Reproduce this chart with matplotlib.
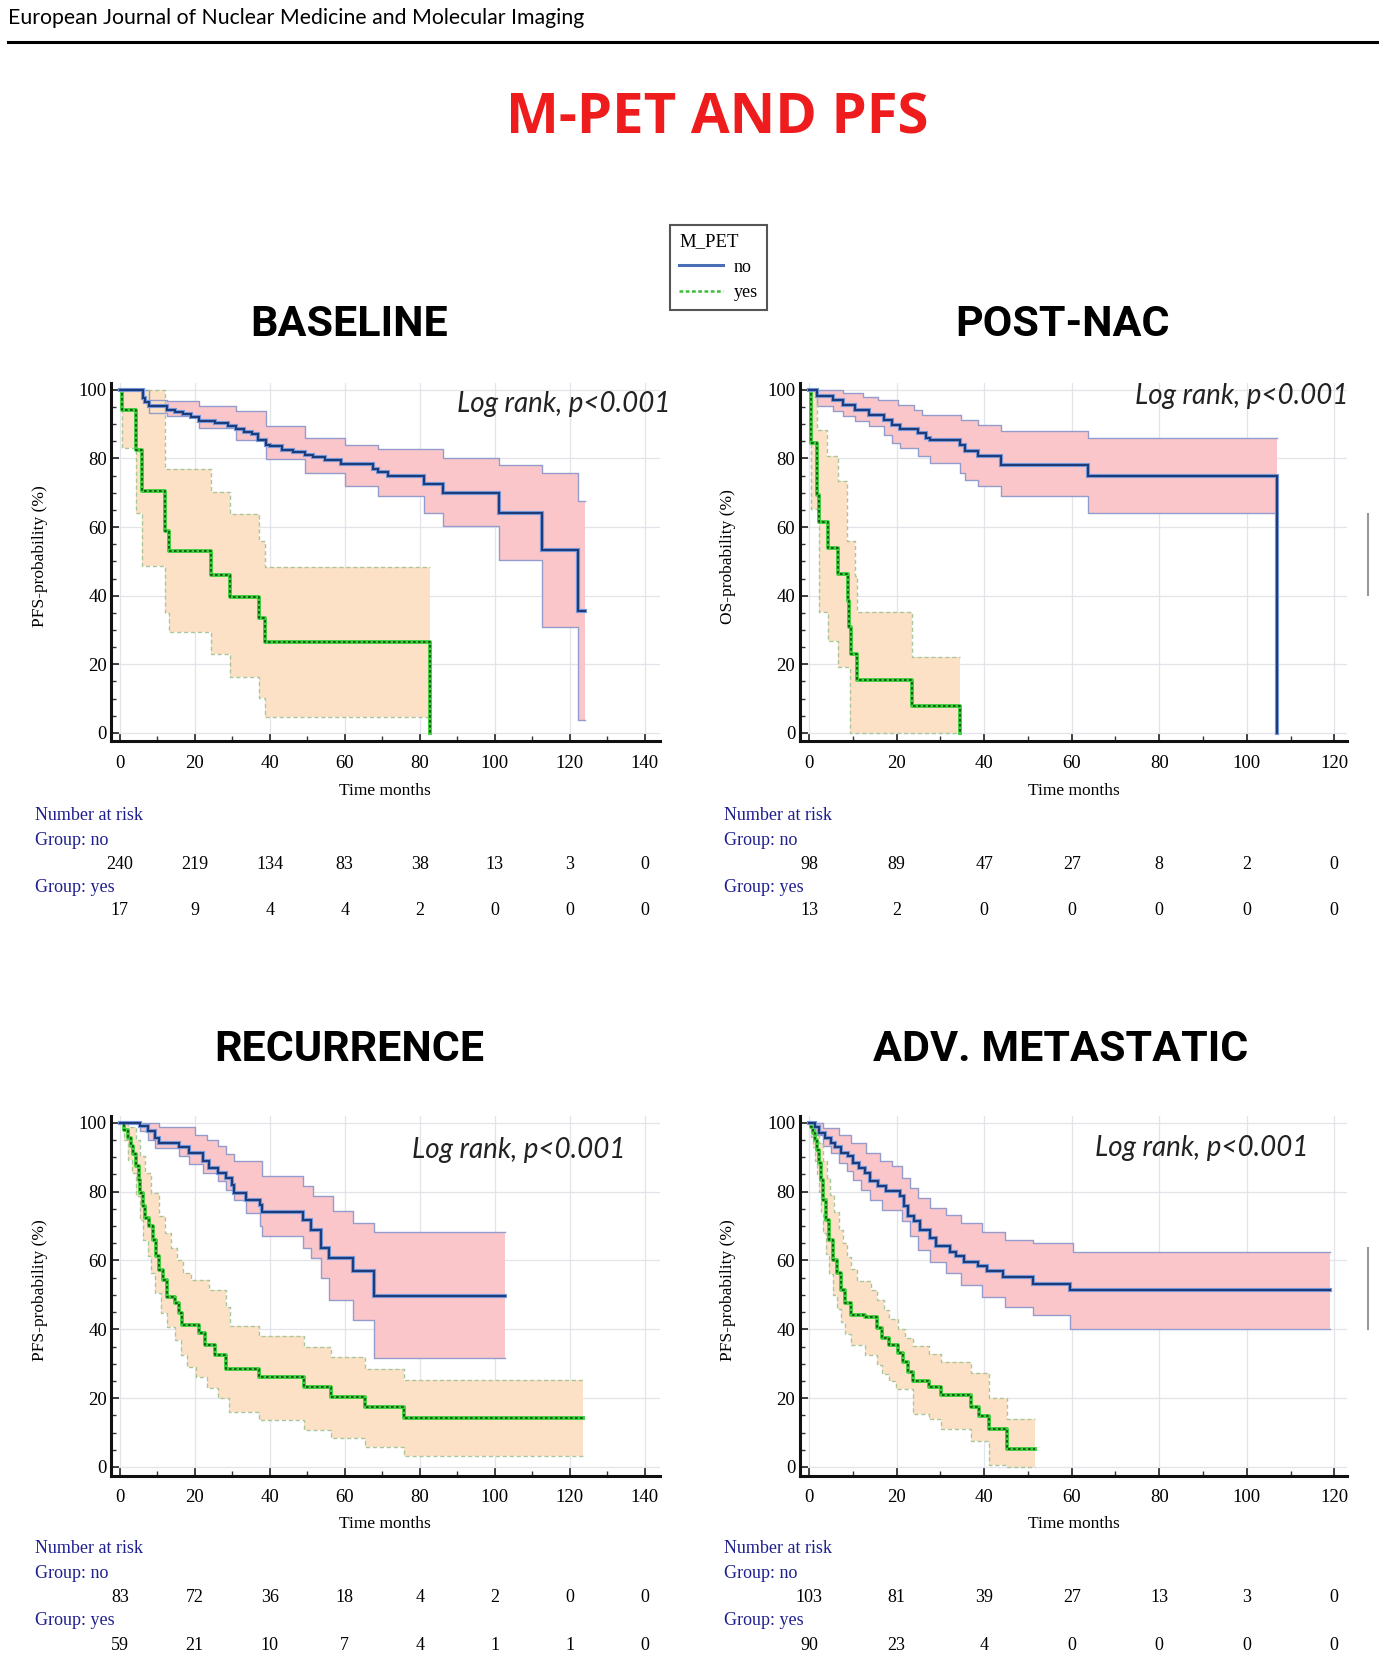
import numpy as np
import matplotlib
matplotlib.use('Agg')
import matplotlib.pyplot as plt
from matplotlib.lines import Line2D
from matplotlib.ticker import MultipleLocator
import matplotlib.transforms as mtrans

# ---------------- data ----------------
# BASELINE
bl_no_t = [0, 6.3, 6.8, 7.9, 12.6, 14.7, 16.8, 18.9, 21.1, 25.3, 28.9, 31.1, 33.2, 35.3, 36.8, 38.9, 40.0, 43.2, 46.3,
           49.5, 51.6, 54.7, 58.9, 67.4, 68.9, 71.6, 81.1, 86.3, 101.1, 112.6, 122.1]
bl_no_s = [100, 97.7, 96.5, 95.2, 94.2, 93.5, 92.8, 92.0, 91.0, 90.2, 89.5, 88.5, 87.8, 87.0, 85.5, 84.0, 83.5, 82.5, 81.8,
           81.0, 80.4, 79.5, 78.5, 77.0, 76.0, 75.0, 72.5, 69.8, 64.0, 53.3, 35.4]
bl_no_end = 124.2
bl_no_hi_t = [0, 7.9, 12.6, 21.1, 31.1, 38.9, 49.5, 60.0, 68.9, 86.3, 101.1, 112.6, 122.1]
bl_no_hi = [100, 97.0, 96.6, 95.2, 93.7, 89.4, 86.0, 84.0, 82.6, 80.2, 78.2, 75.8, 67.6]
bl_no_lo_t = [0, 6.3, 7.9, 12.6, 21.1, 31.1, 38.9, 49.5, 60.0, 68.9, 81.1, 86.3, 101.1, 112.6, 122.1]
bl_no_lo = [100, 96.5, 93.2, 92.3, 88.9, 85.5, 79.7, 75.8, 71.9, 69.0, 64.2, 60.3, 50.4, 31.0, 3.7]

bl_yes_t = [0, 0.5, 4.2, 5.8, 12.1, 13.2, 24.4, 29.5, 37.2, 38.6, 82.6]
bl_yes_s = [100, 94.1, 82.4, 70.6, 58.8, 52.9, 46.0, 39.5, 33.4, 26.4, 0]
bl_yes_end = 82.6
bl_yes_hi_t = [0, 12.1, 24.4, 29.5, 37.2, 38.6]
bl_yes_hi = [100, 77.0, 70.2, 63.7, 56.0, 48.4]
bl_yes_lo_t = [0, 0.5, 4.2, 5.8, 12.1, 13.2, 24.4, 29.5, 37.2, 38.6]
bl_yes_lo = [100, 83.0, 64.0, 48.7, 35.0, 29.3, 23.0, 16.3, 10.2, 4.6]

# POST-NAC
pn_no_t = [0, 1.8, 5.4, 7.7, 10.4, 13.6, 17.2, 19.0, 20.8, 24.9, 26.7, 27.6, 34.4, 35.7, 38.5, 43.9, 63.8, 107.0]
pn_no_s = [100, 98.3, 97.1, 95.6, 94.2, 92.7, 91.3, 89.8, 88.7, 87.4, 86.0, 85.3, 84.0, 82.1, 80.6, 78.2, 75.0, 0]
pn_no_end = 107.0
pn_no_hi_t = [0, 7.7, 12.2, 15.8, 20.4, 24.0, 25.8, 34.8, 38.5, 43.9, 63.8]
pn_no_hi = [100, 99.0, 98.0, 97.0, 95.6, 94.2, 92.7, 91.3, 89.8, 87.9, 86.0]
pn_no_lo_t = [0, 1.8, 5.4, 7.7, 10.4, 13.6, 17.2, 19.0, 20.8, 24.9, 27.6, 34.4, 35.7, 38.5, 43.9, 63.8]
pn_no_lo = [100, 95.4, 93.7, 92.3, 90.8, 89.4, 86.9, 84.5, 83.1, 80.6, 78.7, 75.8, 73.7, 71.9, 69.0, 64.0]

pn_yes_t = [0, 0.5, 1.8, 2.3, 4.3, 6.5, 8.8, 9.2, 9.6, 11.0, 23.5, 34.4]
pn_yes_s = [100, 84.6, 69.2, 61.5, 53.8, 46.2, 38.5, 30.8, 23.1, 15.4, 7.7, 0]
pn_yes_end = 34.4
pn_yes_hi_t = [0, 1.8, 4.1, 6.6, 8.6, 10.4, 11.0, 23.5]
pn_yes_hi = [100, 88.4, 80.8, 73.4, 56.0, 45.8, 35.1, 22.0]
pn_yes_lo_t = [0, 0.5, 2.3, 4.3, 6.6, 9.3]
pn_yes_lo = [100, 65.2, 35.1, 26.9, 19.2, 0]

# RECURRENCE
rc_no_t = [0, 5.3, 7.4, 9.5, 10.5, 15.8, 18.4, 22.1, 23.7, 26.1, 28.4, 30.0, 30.5, 33.7, 37.4, 37.9, 48.9, 51.0, 53.7,
           55.8, 62.1, 67.7]
rc_no_s = [100, 99.2, 97.6, 95.6, 94.2, 93.0, 91.3, 88.8, 86.9, 85.4, 84.0, 82.0, 79.6, 77.7, 76.0, 74.0, 71.8, 68.9, 63.6,
           60.7, 57.0, 49.8]
rc_no_end = 102.6
rc_no_hi_t = [0, 10.5, 20.0, 23.2, 26.3, 28.4, 30.5, 37.9, 48.9, 51.6, 56.8, 62.1, 67.7]
rc_no_hi = [100, 98.8, 96.6, 95.1, 93.2, 90.8, 88.8, 84.5, 81.6, 78.6, 74.3, 70.9, 68.2]
rc_no_lo_t = [0, 5.3, 7.4, 9.5, 15.8, 18.4, 22.1, 26.1, 28.4, 30.5, 33.7, 37.4, 37.9, 48.9, 51.0, 53.7, 55.8, 62.1, 67.7]
rc_no_lo = [100, 97.6, 95.1, 92.7, 90.3, 87.9, 85.4, 83.0, 80.6, 77.7, 73.8, 69.9, 67.0, 63.6, 60.7, 54.9, 48.5, 42.7, 31.6]

rc_yes_t = [0, 1.1, 2.1, 2.9, 3.4, 4.2, 5.1, 5.5, 6.1, 6.8, 7.9, 8.9, 9.7, 10.5, 11.6, 12.6, 14.7, 15.8, 16.6, 21.1,
            22.6, 25.3, 28.4, 37.0, 49.0, 56.3, 65.3, 75.7]
rc_yes_s = [100, 98.0, 95.6, 93.2, 90.8, 87.4, 83.5, 79.6, 75.7, 72.3, 69.9, 66.0, 61.2, 57.3, 54.4, 49.5, 47.6, 44.7,
            41.3, 38.8, 35.4, 32.5, 28.4, 26.1, 23.2, 20.3, 17.3, 14.3]
rc_yes_end = 123.5
rc_yes_hi_t = [0, 2.1, 4.2, 5.5, 6.8, 8.4, 10.5, 12.1, 13.7, 15.3, 16.8, 18.9, 23.7, 28.4, 29.5, 37.0, 49.0, 56.3, 65.3,
               75.7]
rc_yes_hi = [100, 98.8, 95.1, 90.3, 85.4, 79.6, 72.8, 68.0, 63.6, 60.2, 56.3, 54.4, 51.5, 46.6, 41.0, 38.0, 35.0, 32.0,
             28.4, 25.3]
rc_yes_lo_t = [0, 1.1, 2.1, 3.2, 4.2, 5.3, 6.3, 7.4, 8.4, 9.5, 11.1, 12.6, 14.7, 16.3, 17.9, 20.4, 23.3, 26.1, 29.0,
               37.0, 49.0, 56.3, 65.3, 75.7]
rc_yes_lo = [100, 95.1, 89.3, 85.4, 78.6, 71.8, 66.0, 61.2, 56.3, 50.5, 44.7, 40.8, 36.9, 32.5, 29.1, 26.2, 22.9, 20.0,
             16.1, 13.7, 10.7, 8.3, 5.9, 3.2]

# ADV. METASTATIC
am_no_t = [0, 1.4, 2.3, 3.6, 5.0, 5.9, 7.2, 8.8, 10.0, 11.3, 12.7, 14.0, 15.8, 17.6, 20.8, 21.7, 22.6, 24.0, 25.3, 27.6,
           29.0, 32.1, 33.5, 35.3, 38.5, 40.7, 44.3, 51.1, 59.7]
am_no_s = [100, 98.8, 97.1, 95.6, 94.2, 93.0, 91.3, 90.3, 88.3, 86.9, 85.4, 83.0, 81.6, 80.1, 78.6, 75.7, 72.8, 71.4,
           68.9, 66.5, 64.1, 62.6, 61.2, 59.7, 58.3, 56.8, 55.1, 53.2, 51.3]
am_no_end = 119.0
am_no_hi_t = [0, 3.1, 6.8, 9.5, 13.1, 16.3, 19.0, 21.3, 23.1, 24.9, 27.6, 31.2, 34.8, 39.4, 44.8, 51.1, 60.2]
am_no_hi = [100, 98.5, 96.6, 94.2, 91.3, 88.8, 87.4, 84.0, 81.1, 78.2, 75.2, 73.3, 70.9, 68.4, 66.0, 65.0, 62.6]
am_no_lo_t = [0, 1.4, 3.2, 5.0, 6.8, 8.6, 10.0, 11.8, 14.0, 16.7, 21.3, 23.1, 24.9, 27.6, 31.2, 34.8, 39.4, 44.8, 51.1,
              59.7]
am_no_lo = [100, 96.6, 93.2, 91.3, 88.3, 85.9, 83.5, 80.6, 77.7, 74.8, 71.4, 67.0, 63.1, 59.7, 56.3, 52.9, 49.5, 46.6,
            44.2, 40.0]

am_yes_t = [0, 0.5, 0.9, 1.4, 1.8, 2.3, 2.7, 3.2, 3.9, 4.5, 5.4, 6.3, 7.2, 8.1, 9.5, 12.7, 15.4, 16.6, 18.2, 20.2,
            21.5, 22.7, 23.8, 27.5, 30.2, 36.9, 38.8, 41.0, 45.2]
am_yes_s = [100, 98.8, 97.1, 95.1, 92.2, 88.3, 83.5, 77.7, 71.8, 66.0, 60.2, 56.3, 51.5, 47.6, 44.2, 43.5, 40.5, 37.5,
            35.5, 33.0, 30.5, 27.5, 25.0, 23.3, 20.8, 17.3, 14.9, 10.9, 5.1]
am_yes_end = 51.6
am_yes_hi_t = [0, 1.4, 2.3, 3.2, 4.0, 4.8, 5.7, 6.8, 7.7, 8.6, 9.5, 10.9, 14.1, 15.4, 17.0, 18.2, 20.2, 22.0, 23.8,
               27.5, 30.2, 36.9, 41.0, 45.2]
am_yes_hi = [100, 98, 94, 89, 84, 79, 74, 69, 65, 61, 57.5, 54, 51.5, 48.5, 45.5, 43, 40, 37.5, 35.1, 32.7, 30.5, 27.2,
             20.0, 13.9]
am_yes_lo_t = [0, 0.5, 0.9, 1.4, 1.8, 2.3, 2.7, 3.2, 3.9, 4.5, 5.4, 6.3, 7.2, 8.1, 9.5, 12.7, 15.4, 16.6, 18.2, 19.8,
               23.8, 27.5, 30.2, 36.9, 41.0, 45.2]
am_yes_lo = [100, 96, 93, 89, 85, 80, 74, 68, 62, 56, 50, 46, 42, 38.5, 35.5, 32.5, 29.5, 27, 25, 22.8, 15.3, 13.9,
             11.1, 7.4, 0.5, 0]

# numbers at risk
risk_t_long = [0, 20, 40, 60, 80, 100, 120, 140]
risk_t_short = [0, 20, 40, 60, 80, 100, 120]
bl_risk_no = [240, 219, 134, 83, 38, 13, 3, 0]
bl_risk_yes = [17, 9, 4, 4, 2, 0, 0, 0]
pn_risk_no = [98, 89, 47, 27, 8, 2, 0]
pn_risk_yes = [13, 2, 0, 0, 0, 0, 0]
rc_risk_no = [83, 72, 36, 18, 4, 2, 0, 0]
rc_risk_yes = [59, 21, 10, 7, 4, 1, 1, 0]
am_risk_no = [103, 81, 39, 27, 13, 3, 0]
am_risk_yes = [90, 23, 4, 0, 0, 0, 0]

panel_titles = ['BASELINE', 'POST-NAC', 'RECURRENCE', 'ADV. METASTATIC']
ylabels = ['PFS-probability (%)', 'OS-probability (%)', 'PFS-probability (%)', 'PFS-probability (%)']
logrank_text = 'Log rank, p<0.001'

# ---------------- layout helpers ----------------
W, H = 1306.0, 1569.0


def fx(p):
    return p / W


def fy(p):
    return 1 - p / H


SERIF = 'Liberation Serif'
NAVY = '#1f1f8f'
C_NO_FILL = '#fbc6ca'
C_NO_EDGE = '#949ccc'
C_YES_FILL = '#fde1c6'
C_YES_EDGE = '#a9c79a'

fig = plt.figure(figsize=(13.83, 16.62), dpi=100)

# header
fig.text(fx(8), fy(17), 'European Journal of Nuclear Medicine and Molecular Imaging', family='Lato', fontsize=15.3,
         ha='left', va='center', color='black')
fig.add_artist(Line2D([fx(8), fx(1300)], [fy(40), fy(40)], transform=fig.transFigure, color='black', lw=2.2))
fig.text(fx(677), fy(112), 'M-PET AND PFS', family='Open Sans', weight='bold', fontsize=40.5, color='#ee1c1c',
         ha='center', va='center')


def stepval(t, v, x):
    idx = np.searchsorted(np.asarray(t), x, side='right') - 1
    return np.asarray(v)[idx]


def draw_band(ax, lt, lv, ht, hv, end, face, edge, ls):
    grid = np.array(sorted(set(lt) | set(ht) | {end}))
    lo = stepval(lt, lv, grid)
    hi = stepval(ht, hv, grid)
    ax.fill_between(grid, lo, hi, step='post', color=face, lw=0, zorder=1)
    ax.step(list(lt) + [end], list(lv) + [lv[-1]], where='post', color=edge, lw=1.0, ls=ls, zorder=2)
    ax.step(list(ht) + [end], list(hv) + [hv[-1]], where='post', color=edge, lw=1.0, ls=ls, zorder=2)


def draw_no(ax, t, s, end):
    tt = list(t) + [end]
    ss = list(s) + [s[-1]]
    ax.step(tt, ss, where='post', color='#7397d8', lw=3.0, zorder=3, solid_joinstyle='miter')
    ax.step(tt, ss, where='post', color='#1d3a78', lw=1.4, zorder=4, solid_joinstyle='miter')


def draw_yes(ax, t, s, end):
    tt = list(t) + [end]
    ss = list(s) + [s[-1]]
    ax.step(tt, ss, where='post', color='#3fcf3f', lw=2.8, zorder=3)
    ax.step(tt, ss, where='post', color='#0d4d0d', lw=1.2, ls=(0, (1.6, 1.4)), zorder=4)


panels = [
    dict(rect=(105, 361.5, 623, 700), xlim=(-2.3, 144.0), xmax=140,
         no=(bl_no_t, bl_no_s, bl_no_end, bl_no_lo_t, bl_no_lo, bl_no_hi_t, bl_no_hi),
         yes=(bl_yes_t, bl_yes_s, bl_yes_end, bl_yes_lo_t, bl_yes_lo, bl_yes_hi_t, bl_yes_hi),
         risk=(risk_t_long, bl_risk_no, bl_risk_yes), lr=(146.8, 96.0), title_pos=(330, 306),
         risk_y=(770, 793, 816, 838, 860), risk_x=33, xlab_y=747),
    dict(rect=(755, 361.5, 1272, 700), xlim=(-2.2, 122.9), xmax=120,
         no=(pn_no_t, pn_no_s, pn_no_end, pn_no_lo_t, pn_no_lo, pn_no_hi_t, pn_no_hi),
         yes=(pn_yes_t, pn_yes_s, pn_yes_end, pn_yes_lo_t, pn_yes_lo, pn_yes_hi_t, pn_yes_hi),
         risk=(risk_t_short, pn_risk_no, pn_risk_yes), lr=(123.2, 98.1), title_pos=(1003, 306),
         risk_y=(770, 793, 816, 838, 860), risk_x=684, xlab_y=747),
    dict(rect=(105, 1053.5, 623, 1393), xlim=(-2.3, 144.0), xmax=140,
         no=(rc_no_t, rc_no_s, rc_no_end, rc_no_lo_t, rc_no_lo, rc_no_hi_t, rc_no_hi),
         yes=(rc_yes_t, rc_yes_s, rc_yes_end, rc_yes_lo_t, rc_yes_lo, rc_yes_hi_t, rc_yes_hi),
         risk=(risk_t_long, rc_risk_no, rc_risk_yes), lr=(134.9, 92.0), title_pos=(330, 991),
         risk_y=(1462, 1485, 1508, 1530, 1553), risk_x=33, xlab_y=1439),
    dict(rect=(755, 1053.5, 1272, 1393), xlim=(-2.2, 122.9), xmax=120,
         no=(am_no_t, am_no_s, am_no_end, am_no_lo_t, am_no_lo, am_no_hi_t, am_no_hi),
         yes=(am_yes_t, am_yes_s, am_yes_end, am_yes_lo_t, am_yes_lo, am_yes_hi_t, am_yes_hi),
         risk=(risk_t_short, am_risk_no, am_risk_yes), lr=(114.0, 92.6), title_pos=(1002, 991),
         risk_y=(1462, 1485, 1508, 1530, 1553), risk_x=684, xlab_y=1439),
]

for i, p in enumerate(panels):
    l, t, r, b = p['rect']
    ax = fig.add_axes([fx(l), fy(b), fx(r) - fx(l), fy(t) - fy(b)])
    ax.set_xlim(*p['xlim'])
    ax.set_ylim(-2.5, 102)
    ax.set_axisbelow(True)
    for sp in ('top', 'right'):
        ax.spines[sp].set_visible(False)
    for sp in ('left', 'bottom'):
        ax.spines[sp].set_linewidth(2.2)
        ax.spines[sp].set_color('#111111')
    ax.xaxis.set_minor_locator(MultipleLocator(10))
    ax.yaxis.set_minor_locator(MultipleLocator(5))
    ax.set_xticks(list(range(0, p['xmax'] + 1, 20)))
    ax.set_yticks([0, 20, 40, 60, 80, 100])
    ax.grid(True, which='major', color='#e3e3ea', lw=0.9)
    ax.tick_params(which='major', direction='in', length=6, width=1.2, color='#222222', labelsize=13.5, pad=3)
    ax.tick_params(axis='x', which='major', pad=10)
    ax.tick_params(which='minor', direction='in', length=3.5, width=1.0, color='#333333')
    for lab in ax.get_xticklabels() + ax.get_yticklabels():
        lab.set_family(SERIF)

    # curves
    t_no, s_no, e_no, lt, lv, ht, hv = p['no']
    draw_band(ax, lt, lv, ht, hv, e_no, C_NO_FILL, C_NO_EDGE, '-')
    t_y, s_y, e_y, lt2, lv2, ht2, hv2 = p['yes']
    draw_band(ax, lt2, lv2, ht2, hv2, e_y, C_YES_FILL, C_YES_EDGE, (0, (3, 2)))
    draw_yes(ax, t_y, s_y, e_y)
    draw_no(ax, t_no, s_no, e_no)

    # labels
    ax.set_ylabel(ylabels[i], family=SERIF, fontsize=12.5)
    ax.yaxis.set_label_coords(-0.116, 0.517)
    ax.set_xlabel('Time months', family=SERIF, fontsize=12.5)
    ax.xaxis.label.set_va('center')
    ax.xaxis.set_label_coords((363 - 105) / 518.0 if p['risk_x'] < 300 else (1014 - 755) / 517.0,
                              (b - p['xlab_y']) / (b - t))
    ax.text(p['lr'][0], p['lr'][1], logrank_text, family='Lato', style='italic', fontsize=20,
            ha='right', va='center', color='#222222')

    # title
    fig.text(fx(p['title_pos'][0]), fy(p['title_pos'][1]), panel_titles[i], family='Roboto', weight='bold',
             fontsize=31, ha='center', va='center', color='black')

    # number at risk
    rt, rno, ryes = p['risk']
    ry = p['risk_y']
    fig.text(fx(p['risk_x']), fy(ry[0]), 'Number at risk', family=SERIF, fontsize=13, color=NAVY, va='center')
    fig.text(fx(p['risk_x']), fy(ry[1]), 'Group: no', family=SERIF, fontsize=13, color=NAVY, va='center')
    fig.text(fx(p['risk_x']), fy(ry[3]), 'Group: yes', family=SERIF, fontsize=13, color=NAVY, va='center')
    tr = mtrans.blended_transform_factory(ax.transData, fig.transFigure)
    for x, n in zip(rt, rno):
        ax.text(x, fy(ry[2]), str(n), transform=tr, family=SERIF, fontsize=13, ha='center', va='center',
                clip_on=False)
    for x, n in zip(rt, ryes):
        ax.text(x, fy(ry[4]), str(n), transform=tr, family=SERIF, fontsize=13, ha='center', va='center',
                clip_on=False)

# legend
handles = [Line2D([], [], color='#4a6fb5', lw=2.2),
           Line2D([], [], color='#3bbf3b', lw=1.8, ls=(0, (1.5, 1.0)))]
leg = fig.legend(handles=handles, labels=['no', 'yes'], title='M_PET', loc='upper left',
                 bbox_to_anchor=(fx(633), fy(212)), frameon=True, fancybox=False, edgecolor='#555555',
                 framealpha=1, prop={'family': SERIF, 'size': 13}, title_fontproperties={'family': SERIF, 'size': 13.5},
                 alignment='left', handlelength=2.4, handletextpad=0.6, borderpad=0.5, labelspacing=0.45,
                 borderaxespad=0)
leg.get_frame().set_linewidth(1.5)

# small scrollbar-like marks at right edge
fig.add_artist(Line2D([fx(1292), fx(1292)], [fy(485), fy(562)], transform=fig.transFigure, color='#9a9a9a', lw=1.5))
fig.add_artist(Line2D([fx(1292), fx(1292)], [fy(1178), fy(1255)], transform=fig.transFigure, color='#9a9a9a', lw=1.5))

fig.savefig('out.png', dpi=100, facecolor='white')
